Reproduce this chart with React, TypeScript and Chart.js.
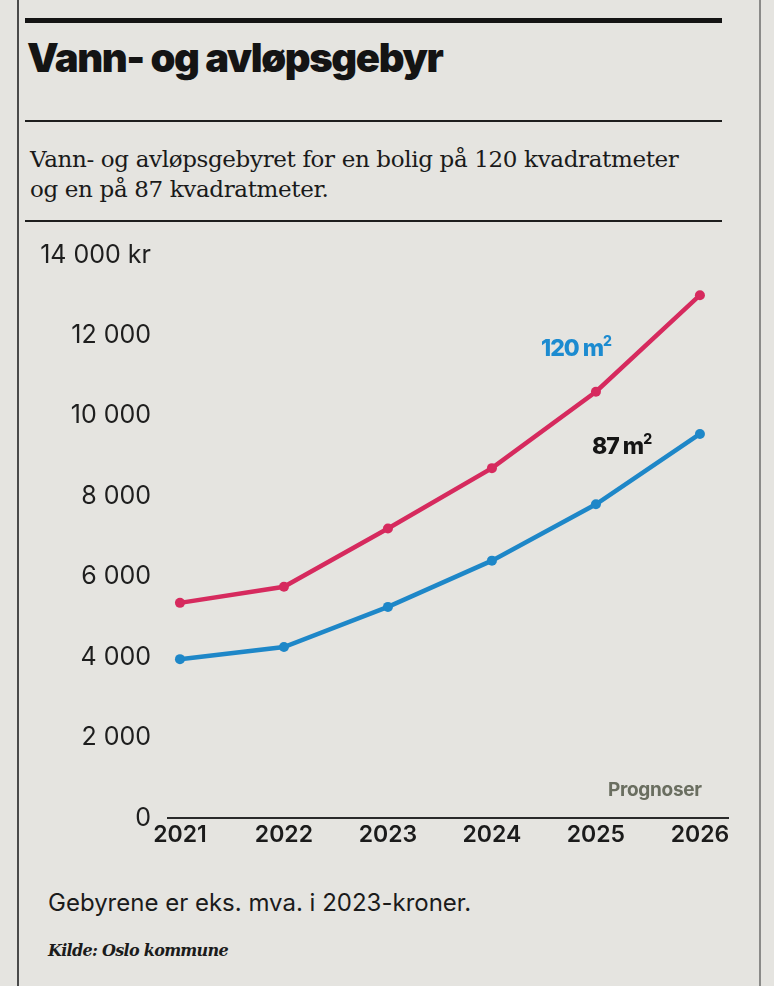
import React, { useEffect, useRef } from "react";
import { Chart, registerables } from "chart.js";

Chart.register(...registerables);

const years = [2021, 2022, 2023, 2024, 2025, 2026];
const fee120 = [5350, 5750, 7200, 8700, 10600, 13000];
const fee87 = [3950, 4250, 5250, 6400, 7800, 9550];
const yTicks = [0, 2000, 4000, 6000, 8000, 10000, 12000, 14000];
const label120 = "120 m";
const label87 = "87 m";

const PINK = "#d62a5e";
const BLUE = "#1e87c8";

function fmt(v: number): string {
  if (v === 0) return "0";
  const s = `${Math.floor(v / 1000)} 000`;
  return v === 14000 ? `${s} kr` : s;
}

function LineChart() {
  const ref = useRef<HTMLCanvasElement | null>(null);
  useEffect(() => {
    if (!ref.current) return;
    const chart = new Chart(ref.current, {
      type: "line",
      data: {
        datasets: [
          {
            label: label120,
            data: years.map((y, i) => ({ x: y, y: fee120[i] })),
            borderColor: PINK,
            backgroundColor: PINK,
            borderWidth: 4.5,
            pointRadius: 5,
            pointHoverRadius: 5,
            pointBorderWidth: 0,
            tension: 0,
          },
          {
            label: label87,
            data: years.map((y, i) => ({ x: y, y: fee87[i] })),
            borderColor: BLUE,
            backgroundColor: BLUE,
            borderWidth: 4.5,
            pointRadius: 5,
            pointHoverRadius: 5,
            pointBorderWidth: 0,
            tension: 0,
          },
        ],
      },
      options: {
        animation: false,
        responsive: true,
        maintainAspectRatio: false,
        layout: { padding: { left: 0, right: 46, top: 0, bottom: 0 } },
        plugins: { legend: { display: false }, tooltip: { enabled: false } },
        scales: {
          x: {
            type: "linear",
            min: 2020.885,
            max: 2026.27,
            afterBuildTicks: (s: any) => {
              s.ticks = years.map((v) => ({ value: v }));
            },
            afterFit: (s: any) => {
              s.height = 52;
            },
            ticks: {
              callback: (v: any) => String(v),
              font: { family: "Inter", size: 23, weight: 600 },
              color: "#1b1b1b",
              padding: 3,
              maxRotation: 0,
              autoSkip: false,
            },
            grid: { display: false, drawTicks: false },
            border: { display: true, color: "#2a2a2a", width: 2 },
          },
          y: {
            min: 0,
            max: 14000,
            afterBuildTicks: (s: any) => {
              s.ticks = yTicks.map((v) => ({ value: v }));
            },
            afterFit: (s: any) => {
              s.width = 168;
            },
            ticks: {
              callback: (v: any) => fmt(Number(v)),
              font: { family: "Inter", size: 25, weight: 400 },
              color: "#1e1e1e",
              padding: 17,
              autoSkip: false,
            },
            grid: { display: false, drawTicks: false },
            border: { display: false },
          },
        },
      },
    });
    return () => chart.destroy();
  }, []);
  return (
    <div style={{ position: "absolute", left: 0, top: 223, width: 774, height: 647 }}>
      <canvas ref={ref} />
    </div>
  );
}

export default function App() {
  const abs = (o: any): React.CSSProperties => ({ position: "absolute", ...o });
  return (
    <div
      style={{
        position: "absolute",
        left: 0,
        top: 0,
        width: 774,
        height: 986,
        overflow: "hidden",
        background: "#e5e4e0",
        fontFamily: "Inter, sans-serif",
      }}
    >
      <div style={abs({ left: 17, top: 0, width: 2, height: 986, background: "#4a4a4a" })} />
      <div style={abs({ left: 759, top: 0, width: 1.5, height: 986, background: "#8a8a88" })} />
      <div style={abs({ left: 25, top: 18, width: 697, height: 5, background: "#141414" })} />
      <div
        style={abs({
          left: 27,
          top: 33,
          fontSize: 40,
          fontWeight: 900,
          letterSpacing: -1.4,
          color: "#141414",
          whiteSpace: "nowrap",
        })}
      >
        Vann- og avløpsgebyr
      </div>
      <div style={abs({ left: 25, top: 120, width: 697, height: 2, background: "#1e1e1e" })} />
      <div
        style={abs({
          left: 30,
          top: 144,
          fontFamily: "'DejaVu Serif', serif",
          fontSize: 23,
          lineHeight: "30px",
          letterSpacing: -0.35,
          color: "#1a1a1a",
          whiteSpace: "nowrap",
        })}
      >
        Vann- og avløpsgebyret for en bolig på 120 kvadratmeter
        <br />
        og en på 87 kvadratmeter.
      </div>
      <div style={abs({ left: 25, top: 220, width: 697, height: 2, background: "#1e1e1e" })} />
      <LineChart />
      <div
        style={abs({
          left: 541,
          top: 334,
          fontSize: 23,
          fontWeight: 800,
          letterSpacing: -1,
          color: "#1c8bd0",
          whiteSpace: "nowrap",
        })}
      >
        {label120}
        <span style={{ fontSize: 14, position: "relative", top: -10 }}>2</span>
      </div>
      <div
        style={abs({
          left: 592,
          top: 432,
          fontSize: 23,
          fontWeight: 800,
          letterSpacing: -1,
          color: "#151515",
          whiteSpace: "nowrap",
        })}
      >
        {label87}
        <span style={{ fontSize: 14, position: "relative", top: -10 }}>2</span>
      </div>
      <div
        style={abs({
          left: 608,
          top: 778,
          fontSize: 19,
          fontWeight: 700,
          letterSpacing: -0.3,
          color: "#6a6e60",
          whiteSpace: "nowrap",
        })}
      >
        Prognoser
      </div>
      <div
        style={abs({
          left: 48,
          top: 888,
          fontSize: 24,
          fontWeight: 400,
          letterSpacing: 0,
          color: "#1b1b1b",
          whiteSpace: "nowrap",
        })}
      >
        Gebyrene er eks. mva. i 2023-kroner.
      </div>
      <div
        style={abs({
          left: 48,
          top: 941,
          fontFamily: "'DejaVu Serif', serif",
          fontStyle: "italic",
          fontWeight: 700,
          fontSize: 16,
          letterSpacing: -0.7,
          color: "#1b1b1b",
          whiteSpace: "nowrap",
        })}
      >
        Kilde: Oslo kommune
      </div>
    </div>
  );
}
